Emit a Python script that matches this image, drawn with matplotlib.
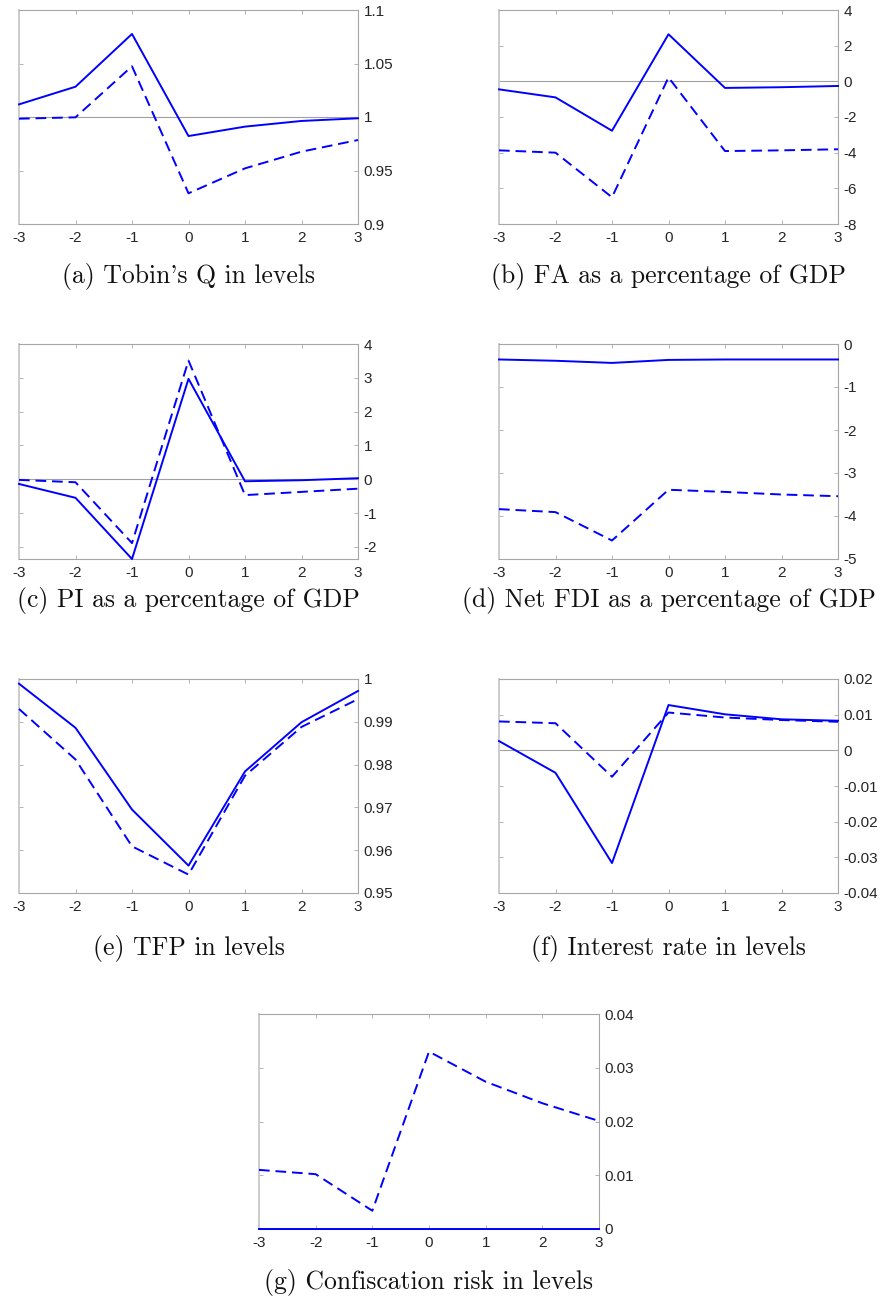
import numpy as np
import matplotlib
matplotlib.use('Agg')
import matplotlib.pyplot as plt

# event window
t = [-3, -2, -1, 0, 1, 2, 3]

# (a) Tobin's Q
q_solid = [1.0118, 1.0283, 1.0776, 0.9822, 0.9910, 0.9963, 0.9988]
q_dash = [0.9984, 0.9997, 1.0474, 0.9287, 0.9520, 0.9676, 0.9785]
# (b) FA
fa_solid = [-0.45, -0.90, -2.77, 2.64, -0.37, -0.33, -0.26]
fa_dash = [-3.87, -4.00, -6.50, 0.22, -3.91, -3.87, -3.81]
# (c) PI
pi_solid = [-0.14, -0.55, -2.36, 2.97, -0.06, -0.03, 0.03]
pi_dash = [-0.02, -0.09, -1.89, 3.51, -0.47, -0.375, -0.28]
# (d) Net FDI
fdi_solid = [-0.36, -0.39, -0.44, -0.37, -0.36, -0.36, -0.36]
fdi_dash = [-3.84, -3.91, -4.57, -3.39, -3.44, -3.50, -3.54]
# (e) TFP
tfp_solid = [0.9989, 0.9886, 0.9695, 0.9564, 0.9784, 0.9899, 0.9972]
tfp_dash = [0.9930, 0.9812, 0.9609, 0.9543, 0.9774, 0.9888, 0.9953]
# (f) interest rate
r_solid = [0.0026, -0.0063, -0.0316, 0.0127, 0.0101, 0.0087, 0.0083]
r_dash = [0.0081, 0.0076, -0.0074, 0.0106, 0.0092, 0.0085, 0.0080]
# (g) confiscation risk
c_solid = [0, 0, 0, 0, 0, 0, 0]
c_dash = [0.0110, 0.0102, 0.0034, 0.0330, 0.0274, 0.0234, 0.0201]

# cmr10 draws ASCII ' as a closing quote
captions = ["(a) Tobin's Q in levels", "(b) FA as a percentage of GDP",
            "(c) PI as a percentage of GDP", "(d) Net FDI as a percentage of GDP",
            "(e) TFP in levels", "(f) Interest rate in levels",
            "(g) Confiscation risk in levels"]

W, H = 883, 1300
fig = plt.figure(figsize=(W / 100, H / 100), dpi=100)

def box(x0, y0, x1, y1):
    return [x0 / W, 1 - y1 / H, (x1 - x0) / W, (y1 - y0) / H]

panels = [
    (box(19, 10, 358, 224), q_solid, q_dash, (0.9, 1.1), [0.9, 0.95, 1, 1.05, 1.1], ['0.9', '0.95', '1', '1.05', '1.1'], 1.0, 277),
    (box(499, 10, 838, 224), fa_solid, fa_dash, (-8, 4), [-8, -6, -4, -2, 0, 2, 4], None, 0.0, 277),
    (box(19, 344, 358, 559), pi_solid, pi_dash, (-2.36, 4), [-2, -1, 0, 1, 2, 3, 4], None, 0.0, 601),
    (box(499, 344, 838, 559), fdi_solid, fdi_dash, (-5, 0), [-5, -4, -3, -2, -1, 0], None, None, 601),
    (box(19, 679, 358, 893), tfp_solid, tfp_dash, (0.95, 1.0), [0.95, 0.96, 0.97, 0.98, 0.99, 1.0], ['0.95', '0.96', '0.97', '0.98', '0.99', '1'], None, 948),
    (box(499, 679, 838, 893), r_solid, r_dash, (-0.04, 0.02), [-0.04, -0.03, -0.02, -0.01, 0, 0.01, 0.02], ['-0.04', '-0.03', '-0.02', '-0.01', '0', '0.01', '0.02'], 0.0, 948),
    (box(259, 1014, 599, 1229), c_solid, c_dash, (0, 0.04), [0, 0.01, 0.02, 0.03, 0.04], ['0', '0.01', '0.02', '0.03', '0.04'], None, 1283),
]

grey = '#a6a6a6'
blue = '#0000ff'

for i, (rect, ys, yd, ylim, yt, ytl, ref, cap_y) in enumerate(panels):
    ax = fig.add_axes(rect)
    if ref is not None:
        ax.axhline(ref, color='#a0a0a0', lw=0.8, zorder=1)
    ax.plot(t, ys, color=blue, lw=1.4, zorder=3, clip_on=False)
    ax.plot(t, yd, color=blue, lw=1.4, dashes=(5.5, 3), zorder=3, clip_on=False)
    ax.set_xlim(-3, 3)
    ax.set_ylim(*ylim)
    ax.set_xticks(t)
    ax.set_xticklabels([str(v) for v in t])
    ax.set_yticks(yt)
    if ytl is None:
        ytl = [str(v) for v in yt]
    ax.set_yticklabels(ytl)
    ax.yaxis.tick_right()
    ax.tick_params(direction='in', length=3, width=0.6, color=grey,
                   labelsize=11, labelcolor='#262626', pad=5,
                   top=True, left=True, right=True, bottom=True,
                   labelleft=False, labelright=True)
    ax.tick_params(axis='y', pad=4)
    for lab in ax.get_xticklabels() + ax.get_yticklabels():
        lab.set_family(['Liberation Sans', 'DejaVu Sans'])
    for s in ax.spines.values():
        s.set_color(grey)
        s.set_linewidth(0.8)
    ax.spines['left'].set_color('#cccccc')
    ax.spines['left'].set_linewidth(1.4)

    cx = rect[0] + rect[2] / 2
    fig.text(cx, 1 - cap_y / H, captions[i], ha='center', va='center',
             family='cmr10', fontsize=18.5, color='#111111')

fig.savefig('out.png', dpi=100)
